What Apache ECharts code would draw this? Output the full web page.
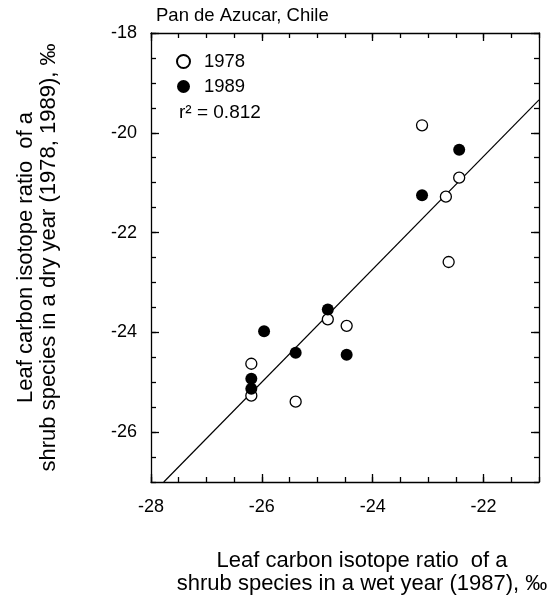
<!DOCTYPE html>
<html>
<head>
<meta charset="utf-8">
<script src="https://cdn.jsdelivr.net/npm/echarts@6/dist/echarts.min.js"></script>
<style>
  html, body { margin: 0; padding: 0; background: #ffffff; }
  #chart { width: 560px; height: 603px; }
</style>
</head>
<body>
<div id="chart"></div>
<script>
// ---- data ----
const chartTitle = 'Pan de Azucar, Chile';
const seriesNames = ['1978', '1989'];
// [wet year 1987, dry year]
const open1978 = [
  [-23.11, -19.85], [-22.44, -20.90], [-22.68, -21.28], [-22.63, -22.59],
  [-24.81, -23.74], [-24.47, -23.87], [-26.19, -24.63], [-26.19, -25.27],
  [-25.39, -25.39]
];
const filled1989 = [
  [-22.44, -20.34], [-23.11, -21.25], [-24.81, -23.54], [-25.96, -23.98],
  [-25.39, -24.41], [-24.47, -24.45], [-26.19, -24.93], [-26.19, -25.13]
];
const fitLine = [[-27.77, -27.0], [-21.0, -19.34]];
const r2Text = 'r² = 0.812';
const xRange = [-28, -21];
const yRange = [-27, -18];
const xTickLabels = [-28, -26, -24, -22];
const yTickLabels = [-26, -24, -22, -20, -18];
const minorStep = 0.5;
const xTitle = 'Leaf carbon isotope ratio  of a\nshrub species in a wet year (1987), ‰';
const yTitle = 'Leaf carbon isotope ratio  of a\nshrub species in a dry year (1978, 1989), ‰';

// ---- styling ----
const FONT = "'Liberation Sans', Arial, Helvetica, sans-serif";
const BLACK = '#000000';
const lineStyle = { color: BLACK, width: 1.3 };

function minorAxis(position, range) {
  return {
    type: 'value', position: position, min: range[0], max: range[1], interval: minorStep,
    axisLine: { show: true, onZero: false, lineStyle: lineStyle },
    axisTick: { show: true, inside: true, length: 5, lineStyle: lineStyle },
    axisLabel: { show: false },
    splitLine: { show: false }
  };
}
function majorAxis(position, range, ticks, withLabels, extra) {
  const ax = {
    type: 'value', position: position, min: range[0], max: range[1],
    axisLine: { show: false, onZero: false },
    axisTick: { show: true, inside: true, length: 8, lineStyle: lineStyle, customValues: ticks },
    axisLabel: withLabels
      ? { show: true, customValues: ticks, color: BLACK, fontSize: 18, fontFamily: FONT, margin: withLabels }
      : { show: false },
    splitLine: { show: false }
  };
  return Object.assign(ax, extra || {});
}

const chart = echarts.init(document.getElementById('chart'), null, { renderer: 'canvas' });
chart.setOption({
  animation: false,
  backgroundColor: '#ffffff',
  textStyle: { fontFamily: FONT, color: BLACK },
  title: {
    text: chartTitle, left: 156, top: 6, padding: 0,
    textStyle: { fontSize: 18.5, fontWeight: 'normal', color: BLACK, fontFamily: FONT }
  },
  legend: {
    data: seriesNames, orient: 'vertical', left: 176, top: 52, padding: 0,
    itemWidth: 13, itemHeight: 13, itemGap: 6, icon: 'circle',
    textStyle: { fontSize: 18.5, color: BLACK, fontFamily: FONT, padding: [0, 0, 0, 9] }
  },
  grid: { left: 151, right: 21, top: 33, bottom: 121, containLabel: false, outerBoundsMode: 'none' },
  xAxis: [
    minorAxis('bottom', xRange),
    majorAxis('bottom', xRange, xTickLabels, 16, {
      name: xTitle, nameLocation: 'middle', nameGap: 67,
      nameTextStyle: { fontSize: 22, lineHeight: 23.5, color: BLACK, fontFamily: FONT, padding: [0, 0, 0, 34] }
    }),
    minorAxis('top', xRange),
    majorAxis('top', xRange, xTickLabels, 0)
  ],
  yAxis: [
    minorAxis('left', yRange),
    majorAxis('left', yRange, yTickLabels, 14, {
      name: yTitle, nameLocation: 'middle', nameGap: 91,
      nameTextStyle: { fontSize: 22, lineHeight: 23, color: BLACK, fontFamily: FONT }
    }),
    minorAxis('right', yRange),
    majorAxis('right', yRange, yTickLabels, 0)
  ],
  graphic: [{
    type: 'text', left: 179, top: 103, silent: true,
    style: { text: r2Text, font: '19px ' + FONT, fill: BLACK }
  }],
  series: [
    {
      type: 'line', data: fitLine, xAxisIndex: 0, yAxisIndex: 0,
      symbol: 'none', silent: true, lineStyle: { color: BLACK, width: 1.2 }, z: 1
    },
    {
      name: seriesNames[0], type: 'scatter', data: open1978, xAxisIndex: 0, yAxisIndex: 0,
      symbol: 'circle', symbolSize: 11,
      itemStyle: { color: '#ffffff', borderColor: BLACK, borderWidth: 1.3, opacity: 1 }, z: 3
    },
    {
      name: seriesNames[1], type: 'scatter', data: filled1989, xAxisIndex: 0, yAxisIndex: 0,
      symbol: 'circle', symbolSize: 12,
      itemStyle: { color: BLACK, borderColor: BLACK, borderWidth: 0, opacity: 1 }, z: 4
    }
  ]
});
</script>
</body>
</html>
